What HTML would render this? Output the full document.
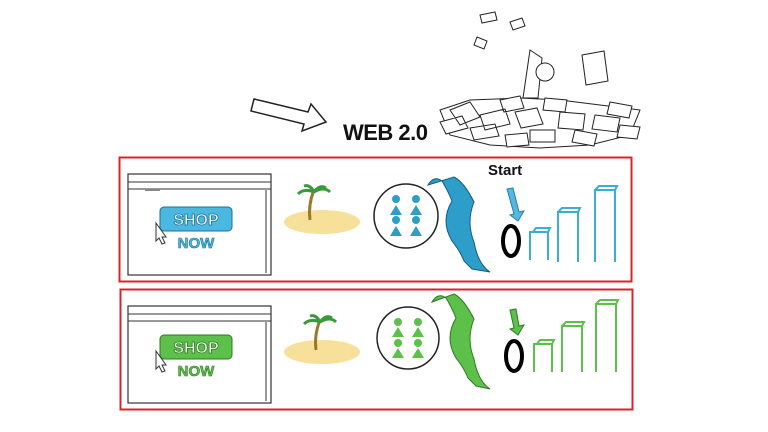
<!DOCTYPE html><html><head><style>body{margin:0;background:#fff}svg{display:block}</style></head><body>
<svg width="768" height="432" viewBox="0 0 768 432" xmlns="http://www.w3.org/2000/svg" font-family="Liberation Sans, sans-serif">
<rect width="768" height="432" fill="#fff"/>
<path d="M254 99 L308 112 L311 104 L326 122 L302 131 L304 124 L251 111 Z" fill="#fff" stroke="#222" stroke-width="1.5"/>
<text x="343" y="140" font-size="22" font-weight="bold" fill="#111" textLength="85">WEB 2.0</text>
<g fill="#fff" stroke="#222" stroke-width="1">
<path d="M440 110 L470 100 L520 98 L560 100 L600 105 L640 110 L630 135 L590 145 L540 148 L490 145 L450 135 Z"/>
<path d="M450 110 l20-8 l10 15 l-20 8z M480 115 l25-6 l5 15 l-25 6z M515 112 l22-4 l6 16 l-22 4z M560 112 l25 2 l-2 16 l-25-2z M595 115 l25 3 l-3 14 l-25-3z M470 128 l25-4 l4 12 l-25 4z M530 130 l25 0 l0 12 l-25 0z M575 130 l22 4 l-3 12 l-22-4z M440 122 l22 -6 l6 12 l-22 6z M500 100 l20 -4 l4 12 l-20 4z M545 98 l22 2 l-2 12 l-22 -2z M610 102 l22 4 l-3 12 l-22 -4z M620 125 l20 2 l-3 12 l-20 -2z M505 135 l22 -2 l2 12 l-22 2z"/>
<path d="M530 50 l12 8 l-4 40 l-15 0z"/>
<path d="M582 55 l22-4 l4 30 l-22 4z"/>
<circle cx="545" cy="72" r="9"/>
<path d="M480 15 l15-3 l2 8 l-15 3z M510 22 l12-4 l3 8 l-12 4z M477 37 l10 4 l-3 8 l-10-4z"/>
</g>
<rect x="119.5" y="157.5" width="512" height="124" fill="none" stroke="#d9232b" stroke-width="2"/>
<rect x="120.5" y="289.5" width="512" height="120" fill="none" stroke="#d9232b" stroke-width="2"/>
<g>
<rect x="128" y="174" width="143" height="101" fill="#fff" stroke="#333" stroke-width="1.2"/>
<line x1="128" y1="182" x2="271" y2="182" stroke="#333"/>
<line x1="128" y1="189" x2="271" y2="189" stroke="#333"/>
<rect x="145" y="189" width="15" height="2" fill="#888"/>
<line x1="266" y1="190" x2="266" y2="273" stroke="#333"/>
<rect x="160" y="207" width="72" height="24" rx="4" fill="#4ab8e0" stroke="#1d6f95"/>
<text x="196" y="225" font-size="16" text-anchor="middle" fill="#fff" stroke="#1d6f95" stroke-width="0.8" font-weight="bold">SHOP</text>
<text x="196" y="248" font-size="15" text-anchor="middle" fill="#4ab8e0" stroke="#1d6f95" stroke-width="0.6" font-weight="bold">NOW</text>
<path d="M156 223 l10 14 l-4 0 l3 6 l-3 1 l-3-6 l-3 3z" fill="#fff" stroke="#333"/>
<ellipse cx="322" cy="222" rx="38" ry="12" fill="#f7e09a"/>
<path d="M310 220 q-2-15 4-30" stroke="#9a7a2a" stroke-width="3" fill="none"/>
<path d="M314 192 q-10-4-16 2 M314 192 q10-6 16 0 M314 192 q-4-8-10-6 M314 192 q6-8 12-4" stroke="#3a9a3a" stroke-width="3" fill="none"/>
<circle cx="406" cy="216" r="32" fill="#fff" stroke="#222" stroke-width="1.5"/>
<g fill="#2d9dc9"><circle cx="396" cy="199" r="4"/><circle cx="416" cy="199" r="4"/><path d="M390 215 l6-10 l6 10z M410 215 l6-10 l6 10z"/><circle cx="396" cy="220" r="4"/><circle cx="416" cy="220" r="4"/><path d="M390 236 l6-10 l6 10z M410 236 l6-10 l6 10z"/></g>
<path d="M428 185 q6-10 14-4 q6 10 10 20 q-12 20 0 40 q8 10 12 20 l8 8 l18 3 q-12-8-16-30 q-8-20 0-40 q-10-20-20-25 z" fill="#2d9dc9" stroke="#145c80"/>
<ellipse cx="511" cy="241" rx="8" ry="15" fill="none" stroke="#000" stroke-width="4"/>
<path d="M514 214 l-7-25 l6-1 l6 24 l5-1 l-6 10 l-8-6z" fill="#55b8e0" stroke="#2a7fa8"/>
<g fill="none" stroke="#3aaed6" stroke-width="2"><path d="M530 260 v-28 h18 v28 M533 232 l3-4 h14 l-2 4 M548 232 v28"/><path d="M558 262 v-50 h20 v50 M558 212 l4-4 h18 l-2 4 M578 212 v50"/><path d="M595 262 v-72 h20 v72 M595 190 l4-4 h18 l-2 4 M615 190 v72"/></g>
</g>
<text x="488" y="175" font-size="15" font-weight="bold" fill="#111">Start</text>
<g transform="translate(0,132)">
<rect x="128" y="174" width="143" height="97" fill="#fff" stroke="#333" stroke-width="1.2"/>
<line x1="128" y1="182" x2="271" y2="182" stroke="#333"/>
<line x1="128" y1="189" x2="271" y2="189" stroke="#333"/>
<line x1="266" y1="190" x2="266" y2="269" stroke="#333"/>
<rect x="160" y="203" width="72" height="24" rx="4" fill="#5cc04a" stroke="#2e7a22"/>
<text x="196" y="221" font-size="16" text-anchor="middle" fill="#fff" stroke="#2e7a22" stroke-width="0.8" font-weight="bold">SHOP</text>
<text x="196" y="244" font-size="15" text-anchor="middle" fill="#5cc04a" stroke="#2e7a22" stroke-width="0.6" font-weight="bold">NOW</text>
<path d="M156 219 l10 14 l-4 0 l3 6 l-3 1 l-3-6 l-3 3z" fill="#fff" stroke="#333"/>
<ellipse cx="322" cy="220" rx="38" ry="12" fill="#f7e09a"/>
<path d="M316 218 q-2-15 4-30" stroke="#9a7a2a" stroke-width="3" fill="none"/>
<path d="M320 190 q-10-4-16 2 M320 190 q10-6 16 0 M320 190 q-4-8-10-6 M320 190 q6-8 12-4" stroke="#3a9a3a" stroke-width="3" fill="none"/>
<circle cx="408" cy="206" r="31" fill="#fff" stroke="#222" stroke-width="1.5"/>
<g fill="#5cc04a"><circle cx="398" cy="190" r="4"/><circle cx="418" cy="190" r="4"/><path d="M392 205 l6-10 l6 10z M412 205 l6-10 l6 10z"/><circle cx="398" cy="211" r="4"/><circle cx="418" cy="211" r="4"/><path d="M392 226 l6-10 l6 10z M412 226 l6-10 l6 10z"/></g>
<path d="M432 170 q6-10 14-4 q6 10 10 20 q-12 20 0 40 q8 10 12 20 l8 8 l14 3 q-12-8-16-30 q-8-20 0-40 q-10-20-20-25 z" fill="#5cc04a" stroke="#2e7a22"/>
<ellipse cx="514" cy="224" rx="8" ry="15" fill="none" stroke="#000" stroke-width="4"/>
<path d="M514 196 l-4-18 l6-1 l3 17 l5-1 l-6 10 l-8-6z" fill="#5cc04a" stroke="#2e7a22"/>
<g fill="none" stroke="#5cc04a" stroke-width="2"><path d="M534 240 v-28 h18 v28 M537 212 l3-4 h14 l-2 4 M552 212 v28"/><path d="M562 240 v-46 h20 v46 M562 194 l4-4 h18 l-2 4 M582 194 v46"/><path d="M596 240 v-68 h20 v68 M596 172 l4-4 h18 l-2 4 M616 172 v68"/></g>
</g>
</svg>
</body></html>
